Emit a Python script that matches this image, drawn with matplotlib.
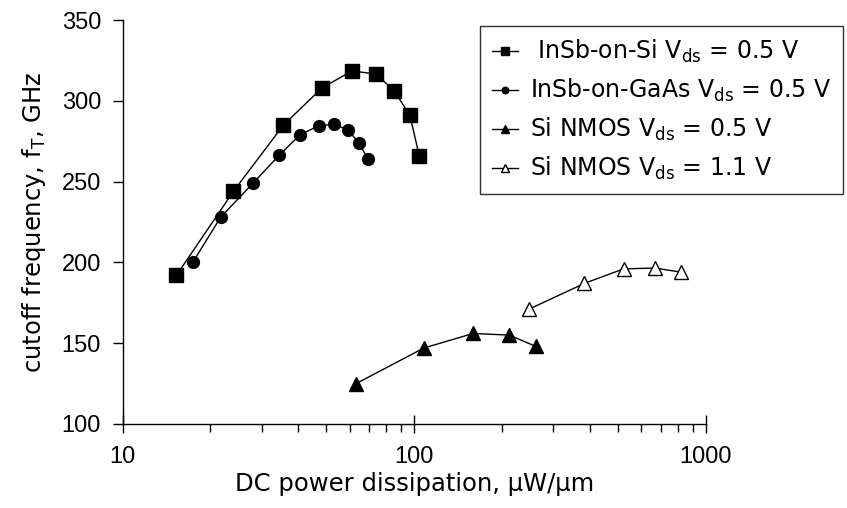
import matplotlib.pyplot as plt
from matplotlib.ticker import LogLocator, NullFormatter, FixedLocator

plt.rcParams['font.family'] = ['Liberation Sans', 'DejaVu Sans']
plt.rcParams['mathtext.fontset'] = 'dejavusans'

# InSb-on-Si, Vds = 0.5 V (squares)
insb_si_x = [15.3, 24.0, 35.6, 48.3, 61.2, 74.1, 85.5, 96.6, 104]
insb_si_y = [192, 244, 285, 308, 318.5, 316.5, 306, 291, 266]

# InSb-on-GaAs, Vds = 0.5 V (circles)
insb_gaas_x = [17.4, 21.7, 28.0, 34.5, 40.6, 47.0, 53.2, 59.2, 64.6, 69.3]
insb_gaas_y = [200, 228, 249, 266.5, 279, 284.5, 285.5, 282, 274, 264]

# Si NMOS, Vds = 0.5 V (filled triangles)
nmos05_x = [63.2, 107.8, 159, 212, 261]
nmos05_y = [125, 147, 156, 155, 148]

# Si NMOS, Vds = 1.1 V (open triangles)
nmos11_x = [247, 383, 522, 668, 818]
nmos11_y = [171, 187, 196, 196.5, 194]

labels = [r' InSb-on-Si V$_\mathrm{ds}$ = 0.5 V',
          r'InSb-on-GaAs V$_\mathrm{ds}$ = 0.5 V',
          r'Si NMOS V$_\mathrm{ds}$ = 0.5 V',
          r'Si NMOS V$_\mathrm{ds}$ = 1.1 V']

LABEL_FONT = 'DejaVu Sans'

fig = plt.figure(figsize=(8.47, 5.08), dpi=100)
ax = fig.add_axes([0.1447, 0.1654, 0.6888, 0.7952])

lw = 1.0
h1, = ax.plot(insb_si_x, insb_si_y, '-s', color='black', lw=lw, ms=9.5, mec='black')
h2, = ax.plot(insb_gaas_x, insb_gaas_y, '-o', color='black', lw=lw, ms=8.5, mec='black')
h3, = ax.plot(nmos05_x, nmos05_y, '-^', color='black', lw=lw, ms=9.5, mec='black')
h4, = ax.plot(nmos11_x, nmos11_y, '-^', color='black', lw=lw, ms=9.5, mfc='white', mec='black')

ax.set_xscale('log')
ax.set_xlim(10, 1000)
ax.set_ylim(100, 350)
ax.set_yticks([100, 150, 200, 250, 300, 350])
ax.xaxis.set_major_locator(FixedLocator([10, 100, 1000]))
ax.set_xticklabels(['10', '100', '1000'])
ax.xaxis.set_minor_locator(LogLocator(base=10, subs=range(2, 10)))
ax.xaxis.set_minor_formatter(NullFormatter())

for s in ['top', 'right']:
    ax.spines[s].set_visible(False)
for s in ['left', 'bottom']:
    ax.spines[s].set_linewidth(1.0)

ax.tick_params(axis='y', which='major', direction='out', length=7, width=1, labelsize=17, pad=8.5)
ax.tick_params(axis='x', which='major', direction='inout', length=13, width=1, labelsize=17, pad=9)
ax.tick_params(axis='x', which='minor', direction='out', length=6, width=1)

ax.set_xlabel('DC power dissipation, \u00b5W/\u00b5m', fontsize=17.5, family=LABEL_FONT, labelpad=3)
ax.set_ylabel(r'cutoff frequency, f$_\mathrm{T}$, GHz', fontsize=17.5, family=LABEL_FONT, labelpad=10)

leg = ax.legend([h1, h2, h3, h4], labels, loc='upper right',
                bbox_to_anchor=(843 / 847, 1 - 26 / 508), bbox_transform=fig.transFigure,
                borderaxespad=0, fancybox=False, frameon=True, edgecolor='black',
                prop={'family': LABEL_FONT, 'size': 17},
                markerscale=0.55, handlelength=1.1, handletextpad=0.5,
                labelspacing=0.5, borderpad=0.5)
leg.get_frame().set_linewidth(1.0)

fig.savefig('out.png', dpi=100)
